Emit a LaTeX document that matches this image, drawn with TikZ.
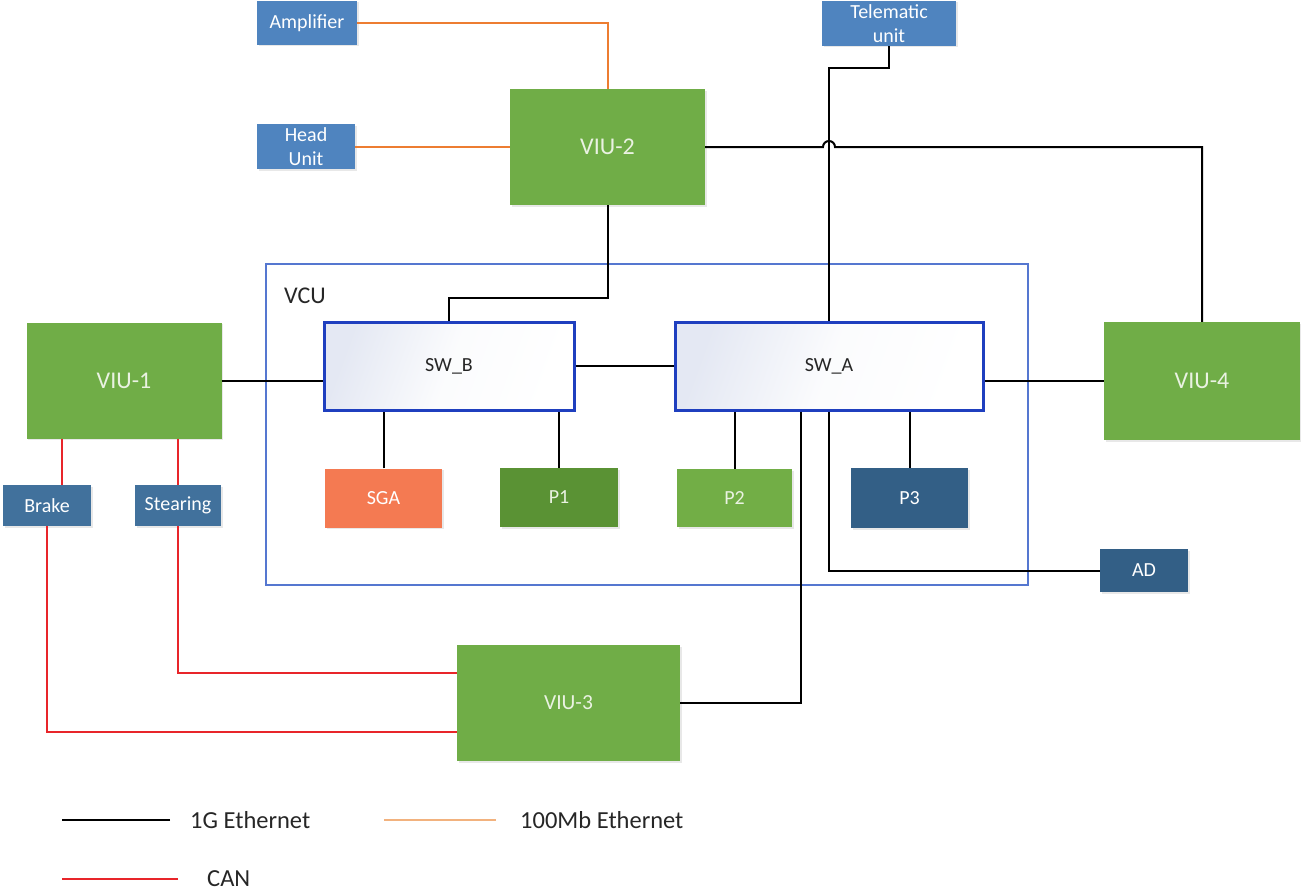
\documentclass[tikz,border=0pt]{standalone}
\usepackage{fontspec}
\setmainfont{Carlito}
\usetikzlibrary{calc,shadows}

\definecolor{viugreen}{HTML}{70AD47}
\definecolor{p1green}{HTML}{5A9234}
\definecolor{p2green}{HTML}{72AE46}
\definecolor{unitblue}{HTML}{4F84BF}
\definecolor{ctrlblue}{HTML}{41719C}
\definecolor{darkblue}{HTML}{335F86}
\definecolor{coral}{HTML}{F47A52}
\definecolor{swborder}{HTML}{1F3FBF}
\definecolor{vcuborder}{HTML}{5577D0}
\definecolor{ethorange}{HTML}{ED7D31}
\definecolor{legorange}{HTML}{F2B27E}
\definecolor{canred}{HTML}{E8252A}
\definecolor{lighttext}{HTML}{EAF2E2}
\definecolor{darktext}{HTML}{262626}
\definecolor{swshade}{HTML}{E4E8F3}

\begin{document}
\begin{tikzpicture}[x=1pt,y=-1pt,
  blk/.style={draw=none, inner sep=0pt, align=center, text=white,
    drop shadow={opacity=0.18, shadow xshift=1.5pt, shadow yshift=-1.5pt},
    font=\fontsize{20}{22}\selectfont},
  viu/.style={blk, fill=viugreen, text=lighttext,
    minimum width=195pt, minimum height=116pt, font=\fontsize{24}{28}\selectfont},
  small/.style={blk, minimum width=100pt, minimum height=44pt},
  proc/.style={blk, minimum width=117pt, minimum height=59pt},
  switch/.style={draw=swborder, line width=3pt, shading=axis,
    left color=swshade, right color=white, middle color=white!85!swshade, shading angle=70,
    inner sep=0pt, text=darktext, font=\fontsize{20}{22}\selectfont},
  eth/.style={draw=black, line width=2pt},
  fast/.style={draw=ethorange, line width=2pt},
  can/.style={draw=canred, line width=2pt},
  legtxt/.style={anchor=west, inner sep=0pt, text=darktext, font=\fontsize{24.5}{28}\selectfont}]

\useasboundingbox (0,0) rectangle (1301,891);

% VCU housing
\node[draw=vcuborder, line width=1.4pt, minimum width=762pt, minimum height=321pt, inner sep=0pt]
  (vcu) at (647,424.5) {};
\node[anchor=west, inner sep=0pt, text=darktext, font=\fontsize{24}{28}\selectfont]
  (vculabel) at (284,296) {VCU};

% Vehicle interface units
\node[viu] (viu1) at (124,380.5) {VIU-1};
\node[viu] (viu2) at (607.5,147) {VIU-2};
\node[viu, minimum width=223pt, font=\fontsize{21.5}{24}\selectfont] (viu3) at (568.5,703) {VIU-3};
\node[viu, minimum width=196pt, minimum height=118pt] (viu4) at (1202,381) {VIU-4};

% Peripheral units
\node[small, fill=unitblue] (amp) at (307,23) {Amplifier};
\node[small, fill=unitblue, minimum width=98pt, minimum height=45pt] (hu) at (306,146.5) {Head\\[2pt]Unit};
\node[small, fill=unitblue, minimum width=134pt, minimum height=45pt] (tel) at (889,23.5) {Telematic\\[2pt]unit};
\node[small, fill=ctrlblue, minimum width=88pt, minimum height=41pt] (brake) at (47,505.5) {Brake};
\node[small, fill=ctrlblue, minimum width=86pt, minimum height=41pt] (stear) at (178,505.5) {Stearing};
\node[small, fill=darkblue, minimum width=88pt, minimum height=43pt] (ad) at (1144,570.5) {AD};

% Switches
\node[switch, minimum width=250pt, minimum height=88pt] (swb) at (449,366) {SW\_B};
\node[switch, minimum width=308pt, minimum height=88pt] (swa) at (829,366) {SW\_A};

% Processing units
\node[proc, fill=coral] (sga) at (383.5,498) {SGA};
\node[proc, fill=p1green, text=lighttext, minimum width=118pt] (p1) at (559,497.5) {P1};
\node[proc, fill=p2green, text=lighttext, minimum width=115pt, minimum height=58pt] (p2) at (734.5,498) {P2};
\node[proc, fill=darkblue, minimum height=60pt] (p3) at (909.5,498) {P3};

% 100Mb Ethernet links
\draw[fast] (amp.east) -| (viu2.north);
\draw[fast] (hu.east) -- (hu.east -| viu2.west);

% 1G Ethernet links
\draw[eth] (viu2.east) -- ($(viu2.east -| swa.north)+(-6,0)$)
  arc[start angle=180, end angle=0, radius=6pt] -- (viu2.east -| viu4.north) -- (viu4.north);
\draw[eth] (tel.south) -- ++(0,22) -| (swa.north);
\draw[eth] (viu2.south) -- ++(0,93) -| (swb.north);
\draw[eth] (viu1.east) -- (viu1.east -| swb.west);
\draw[eth] (swb.east) -- (swa.west);
\draw[eth] (viu4.west) -- (viu4.west -| swa.east);
\draw[eth] (sga.north) -- (sga.north |- swb.south);
\draw[eth] (p1.north) -- (p1.north |- swb.south);
\draw[eth] (p2.north) -- (p2.north |- swa.south);
\draw[eth] (p3.north) -- (p3.north |- swa.south);
\draw[eth] ($(swa.south)+(-28,0)$) coordinate (swadown) |- (viu3.east);
\draw[eth] (swa.south) |- (ad.west);

% CAN links
\draw[can] ($(brake.north)+(15,0)$) coordinate (brakeup) -- (brakeup |- viu1.south);
\draw[can] (stear.north) -- (stear.north |- viu1.south);
\draw[can] (brake.south) |- ($(viu3.west)+(0,29)$);
\draw[can] (stear.south) |- ($(viu3.west)+(0,-30)$);

% Legend
\node[legtxt] (leg1) at (190,820) {1G Ethernet};
\node[legtxt] (leg2) at (520,820) {100Mb Ethernet};
\node[legtxt] (leg3) at (207,879) {CAN};
\draw[eth, line width=1.8pt] ($(leg1.west)+(-20,0)$) -- ++(-108,0);
\draw[draw=legorange, line width=1.8pt] ($(leg2.west)+(-24,0)$) -- ++(-112,0);
\draw[can, line width=1.8pt] ($(leg3.west)+(-29,0)$) -- ++(-116,0);
\end{tikzpicture}
\end{document}
